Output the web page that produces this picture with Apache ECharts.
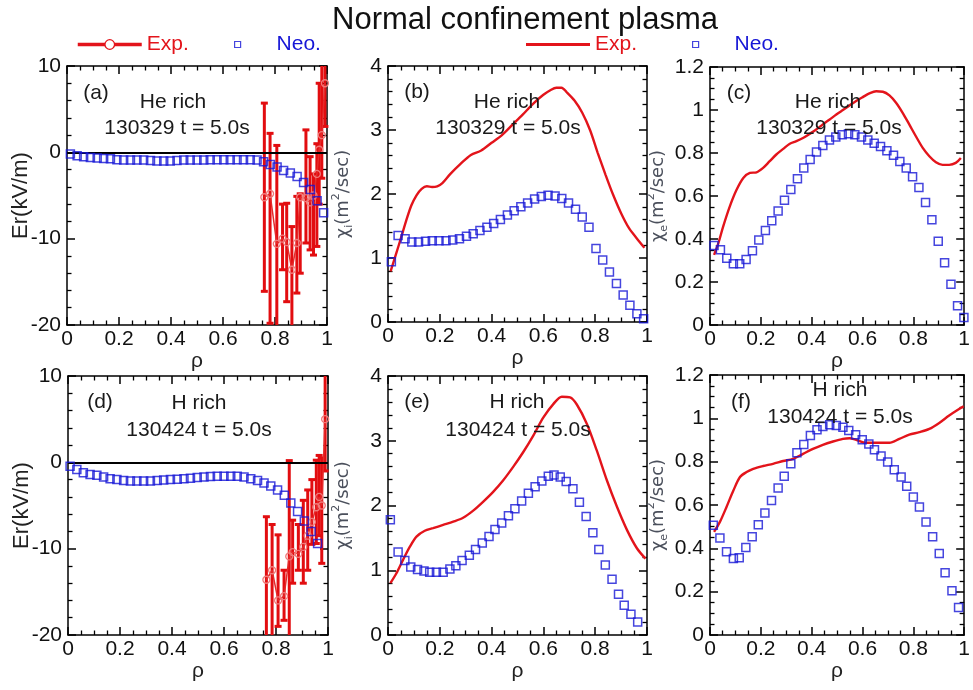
<!DOCTYPE html>
<html><head><meta charset="utf-8">
<script src="https://cdn.jsdelivr.net/npm/echarts@6/dist/echarts.min.js"></script>
<style>html,body{margin:0;padding:0;background:#fff}#c{width:973px;height:690px}</style>
</head><body><div id="c"></div>
<script>
// ---------- data ----------
const rhoNeoA = [0.013,0.039,0.064,0.090,0.116,0.141,0.167,0.192,0.218,0.244,0.269,0.295,0.321,0.346,0.372,0.397,0.423,0.449,0.474,0.500,0.526,0.551,0.577,0.603,0.628,0.654,0.679,0.705,0.731,0.756,0.782,0.808,0.833,0.859,0.885,0.910,0.936,0.962,0.987];
const neoA = [-0.2,-0.4,-0.5,-0.6,-0.65,-0.7,-0.75,-0.85,-0.9,-0.9,-0.9,-0.9,-0.95,-1.0,-1.0,-1.0,-0.95,-0.9,-0.9,-0.9,-0.9,-0.85,-0.85,-0.85,-0.85,-0.85,-0.85,-0.85,-0.9,-1.1,-1.4,-1.7,-2.1,-2.4,-2.8,-3.5,-4.3,-5.6,-7.0];
const rhoExpA = [0.759,0.781,0.807,0.829,0.845,0.865,0.884,0.897,0.919,0.935,0.948,0.961,0.970,0.980,0.992];
const expA   = [-5.2,-4.8,-10.6,-10.0,-10.4,-13.6,-10.5,-5.2,-5.3,-5.8,-5.0,-2.5,0.3,2.0,8.0];
const expALo = [-16.1,-19.8,-23,-13.6,-17.3,-23,-16.3,-14.0,-10.5,-11.3,-11.9,-10.9,-6,-3,3];
const expAHi = [5.7,2.2,0.8,-6.0,-5.9,-8.6,-5.1,-4.8,2.6,-0.5,-2.5,1.0,8.0,12,14];

const rhoNeoB = [0.013,0.039,0.066,0.092,0.118,0.145,0.171,0.197,0.224,0.250,0.276,0.303,0.329,0.355,0.382,0.408,0.434,0.461,0.487,0.513,0.539,0.566,0.592,0.618,0.645,0.671,0.697,0.724,0.750,0.776,0.803,0.829,0.855,0.882,0.908,0.934,0.961,0.987];
const neoB = [0.94,1.35,1.30,1.25,1.25,1.26,1.27,1.27,1.27,1.28,1.30,1.34,1.38,1.43,1.48,1.54,1.60,1.67,1.74,1.80,1.86,1.92,1.96,1.98,1.97,1.93,1.86,1.76,1.64,1.48,1.15,0.97,0.78,0.60,0.42,0.26,0.13,0.05];
const rhoExpB = [0.01,0.03,0.05,0.07,0.09,0.11,0.13,0.15,0.17,0.19,0.21,0.24,0.28,0.32,0.36,0.40,0.44,0.48,0.52,0.56,0.60,0.63,0.65,0.67,0.69,0.72,0.75,0.78,0.81,0.84,0.87,0.90,0.93,0.96,0.99];
const expB = [0.79,1.05,1.31,1.58,1.82,1.98,2.08,2.12,2.11,2.12,2.17,2.31,2.47,2.61,2.68,2.80,2.92,3.08,3.24,3.41,3.55,3.63,3.66,3.66,3.59,3.46,3.27,3.00,2.64,2.30,1.98,1.70,1.47,1.31,1.16];

const rhoNeoC = [0.016,0.041,0.066,0.092,0.117,0.142,0.167,0.192,0.218,0.243,0.268,0.293,0.318,0.344,0.369,0.394,0.419,0.444,0.470,0.495,0.520,0.545,0.570,0.596,0.621,0.646,0.671,0.696,0.722,0.747,0.772,0.797,0.822,0.848,0.873,0.898,0.923,0.948,0.974,0.999];
const neoC = [0.37,0.35,0.31,0.285,0.285,0.305,0.345,0.395,0.44,0.485,0.53,0.58,0.63,0.68,0.73,0.77,0.805,0.835,0.86,0.875,0.885,0.89,0.885,0.875,0.86,0.845,0.83,0.81,0.79,0.76,0.73,0.69,0.64,0.57,0.49,0.39,0.29,0.19,0.09,0.035];
const rhoExpC = [0.016,0.033,0.052,0.078,0.105,0.131,0.157,0.183,0.209,0.235,0.261,0.288,0.314,0.340,0.366,0.392,0.418,0.444,0.471,0.497,0.523,0.549,0.575,0.601,0.627,0.654,0.680,0.706,0.732,0.758,0.784,0.810,0.837,0.863,0.889,0.915,0.941,0.967,0.987];
const expC = [0.326,0.381,0.459,0.552,0.63,0.684,0.707,0.71,0.731,0.762,0.793,0.819,0.843,0.855,0.87,0.889,0.909,0.933,0.956,0.979,1.0,1.021,1.042,1.06,1.077,1.087,1.085,1.068,1.034,0.987,0.933,0.878,0.824,0.785,0.757,0.745,0.745,0.754,0.777];

const rhoNeoD = [0.008,0.034,0.059,0.085,0.111,0.137,0.162,0.188,0.214,0.240,0.265,0.291,0.317,0.343,0.368,0.394,0.420,0.446,0.471,0.497,0.523,0.548,0.574,0.600,0.626,0.651,0.677,0.703,0.729,0.754,0.780,0.806,0.832,0.857,0.883,0.909,0.935,0.960];
const neoD = [-0.45,-0.84,-1.2,-1.4,-1.5,-1.7,-1.9,-2.0,-2.1,-2.15,-2.15,-2.15,-2.15,-2.1,-2.05,-2.0,-1.95,-1.9,-1.85,-1.75,-1.7,-1.65,-1.6,-1.6,-1.6,-1.6,-1.7,-1.9,-2.1,-2.4,-2.75,-3.2,-3.8,-4.7,-5.7,-6.8,-8.0,-9.4];
const rhoExpD = [0.763,0.785,0.808,0.831,0.851,0.864,0.886,0.905,0.922,0.938,0.955,0.966,0.976,0.989];
const expD   = [-13.6,-12.5,-16.0,-15.5,-10.9,-10.4,-10.6,-9.8,-8.5,-6.9,-5.2,-4.0,-5.0,5.0];
const expDLo = [-22,-21,-19,-18.3,-22,-14,-12.5,-14,-12.5,-9.5,-9.4,-8.5,-11.7,-1];
const expDHi = [-6.3,-7.2,-8.4,-12.5,0.2,-6.7,-7.2,-4.4,-3.2,-2.0,0.25,0.8,0.5,12];

const rhoNeoE = [0.009,0.039,0.065,0.088,0.114,0.139,0.161,0.187,0.213,0.239,0.262,0.286,0.314,0.338,0.364,0.390,0.413,0.439,0.465,0.490,0.516,0.542,0.568,0.594,0.619,0.641,0.665,0.688,0.714,0.739,0.765,0.791,0.814,0.839,0.865,0.890,0.912,0.938,0.964];
const neoE = [1.78,1.28,1.15,1.05,1.01,0.99,0.97,0.97,0.97,1.02,1.07,1.15,1.23,1.32,1.42,1.52,1.63,1.73,1.84,1.95,2.07,2.19,2.29,2.38,2.45,2.47,2.44,2.37,2.26,2.05,1.83,1.58,1.32,1.08,0.86,0.63,0.46,0.32,0.20];
const rhoExpE = [0.009,0.032,0.058,0.084,0.11,0.142,0.174,0.213,0.252,0.29,0.329,0.368,0.406,0.445,0.484,0.523,0.561,0.6,0.639,0.671,0.703,0.729,0.768,0.806,0.845,0.884,0.923,0.961,0.994];
const expE = [0.8,0.95,1.16,1.36,1.52,1.61,1.65,1.70,1.75,1.81,1.92,2.06,2.21,2.39,2.60,2.83,3.08,3.36,3.57,3.68,3.67,3.56,3.26,2.85,2.39,1.98,1.62,1.34,1.18];

const rhoNeoF = [0.013,0.039,0.065,0.092,0.115,0.141,0.166,0.19,0.216,0.242,0.268,0.292,0.318,0.342,0.369,0.395,0.421,0.444,0.471,0.497,0.523,0.546,0.573,0.599,0.625,0.647,0.673,0.699,0.725,0.752,0.774,0.8,0.824,0.85,0.876,0.902,0.925,0.952,0.978];
const neoF = [0.506,0.448,0.384,0.353,0.357,0.404,0.453,0.509,0.563,0.621,0.678,0.733,0.79,0.841,0.879,0.921,0.947,0.962,0.97,0.967,0.959,0.944,0.924,0.901,0.882,0.855,0.826,0.798,0.763,0.729,0.687,0.637,0.591,0.522,0.453,0.376,0.287,0.204,0.127];
const rhoExpF = [0.016,0.039,0.065,0.092,0.118,0.144,0.17,0.209,0.248,0.288,0.327,0.366,0.405,0.444,0.484,0.523,0.549,0.575,0.614,0.654,0.706,0.745,0.784,0.824,0.863,0.902,0.941,0.98,0.998];
const expF = [0.476,0.522,0.591,0.667,0.729,0.752,0.767,0.78,0.79,0.803,0.813,0.836,0.859,0.878,0.893,0.905,0.908,0.901,0.887,0.887,0.887,0.905,0.925,0.936,0.951,0.979,1.013,1.043,1.055];

const panelTags = ['(a)','(b)','(c)','(d)','(e)','(f)'];
const panelSpecies = ['He rich','He rich','He rich','H rich','H rich','H rich'];
const panelShots = ['130329 t = 5.0s','130329 t = 5.0s','130329 t = 5.0s','130424 t = 5.0s','130424 t = 5.0s','130424 t = 5.0s'];

// ---------- styling / layout ----------
const FONT = '"Liberation Sans", Arial, sans-serif';
const RED = '#e3141b', BLUE = '#1616d6';
const zip = (xs, ys) => xs.map((x, i) => [x, ys[i]]);
const grids = [
  {left:67, top:66, width:260, height:259},
  {left:388, top:66, width:259, height:256},
  {left:710, top:67, width:255, height:258},
  {left:68, top:376, width:260, height:259},
  {left:388, top:376, width:259, height:259},
  {left:710, top:375, width:255, height:260}
];
const yRange = [
  {min:-20,max:10,interval:10,minor:5,kind:'er'},
  {min:0,max:4,interval:1,minor:5,kind:'chii'},
  {min:0,max:1.2,interval:0.2,minor:4,kind:'chie'},
  {min:-20,max:10,interval:10,minor:5,kind:'er'},
  {min:0,max:4,interval:1,minor:5,kind:'chii'},
  {min:0,max:1.2,interval:0.2,minor:4,kind:'chie'}
];
const lineBlack = {show:true, onZero:false, lineStyle:{color:'#000', width:1.5}};
const tick = {show:true, inside:true, length:8, lineStyle:{color:'#000', width:1.5}};
const minor = n => ({show:true, splitNumber:n, length:4.5, lineStyle:{color:'#000', width:1.3}});

const xAxis = [], yAxis = [];
grids.forEach((g, i) => {
  xAxis.push({type:'value', gridIndex:i, min:0, max:1, interval:0.2, position:'bottom',
    axisLine:lineBlack, axisTick:tick, minorTick:minor(4), splitLine:{show:false},
    axisLabel:{fontSize:21, color:'#111', fontFamily:FONT, margin:4},
    name:'ρ', nameLocation:'middle', nameGap:26, nameMoveOverlap:false,
    nameTextStyle:{fontSize:21, color:'#222', fontFamily:FONT}});
  xAxis.push({type:'value', gridIndex:i, min:0, max:1, interval:0.2, position:'top',
    axisLine:lineBlack, axisTick:tick, minorTick:minor(4), splitLine:{show:false}, axisLabel:{show:false}});
  const r = yRange[i];
  let nameObj;
  if (r.kind === 'er') {
    nameObj = {name:'Er(kV/m)', nameGap:35, nameTextStyle:{fontSize:22, color:'#222', fontFamily:FONT}};
  } else {
    const sub = r.kind === 'chii' ? 'i' : 'e';
    const col = '#4b505c';
    nameObj = {name:'{g|χ}{s|' + sub + '}{g|(m}{p|2}{g|/sec)}', nameGap: r.kind === 'chii' ? 33 : 40,
      nameTextStyle:{color:col, fontFamily:'"DejaVu Sans", sans-serif', fontSize:18, rich:{
        g:{fontSize:18, color:col, fontFamily:'"DejaVu Sans", sans-serif', lineHeight:24, verticalAlign:'middle'},
        s:{fontSize:11, color:col, fontFamily:'"DejaVu Sans", sans-serif', lineHeight:24, verticalAlign:'bottom'},
        p:{fontSize:11, color:col, fontFamily:'"DejaVu Sans", sans-serif', lineHeight:24, verticalAlign:'top'}}}};
  }
  yAxis.push(Object.assign({type:'value', gridIndex:i, min:r.min, max:r.max, interval:r.interval, position:'left',
    axisLine:lineBlack, axisTick:tick, minorTick:minor(r.minor), splitLine:{show:false},
    axisLabel:{fontSize:21, color:'#111', fontFamily:FONT, margin:6},
    nameLocation:'middle', nameRotate:90, nameMoveOverlap:false}, nameObj));
  yAxis.push({type:'value', gridIndex:i, min:r.min, max:r.max, interval:r.interval, position:'right',
    axisLine:lineBlack, axisTick:tick, minorTick:minor(r.minor), splitLine:{show:false}, axisLabel:{show:false}});
});

function neoSeries(i, name, xs, ys, zero) {
  const s = {type:'scatter', name, xAxisIndex:2*i, yAxisIndex:2*i, data:zip(xs, ys), clip:false,
    symbol:'rect', symbolSize:8, z:5,
    itemStyle:{color:'rgba(255,255,255,0)', borderColor:BLUE, borderWidth:1.5}};
  if (zero) s.markLine = {silent:true, symbol:'none', label:{show:false}, data:[{yAxis:0}],
    lineStyle:{color:'#000', width:2.2, type:'solid'}};
  return s;
}
function expLine(i, name, xs, ys) {
  return {type:'line', name, xAxisIndex:2*i, yAxisIndex:2*i, data:zip(xs, ys), symbol:'none',
    smooth:0.3, lineStyle:{color:RED, width:2.4}, z:3};
}
function expErr(i, xs, ys, lo, hi) {
  const r = yRange[i];
  return [
    {type:'custom', name:'err'+i, xAxisIndex:2*i, yAxisIndex:2*i, z:3,
     data: xs.map((x, k) => [x, lo[k], hi[k]]),
     renderItem: (params, api) => {
       const x = api.value(0), l = api.value(1), h = api.value(2);
       const p1 = api.coord([x, Math.max(l, r.min)]), p2 = api.coord([x, Math.min(h, r.max)]);
       const hw = 3.5, st = {stroke:'#e20d10', lineWidth:3};
       const ch = [{type:'line', shape:{x1:p1[0], y1:p1[1], x2:p2[0], y2:p2[1]}, style:st}];
       if (l >= r.min) ch.push({type:'line', shape:{x1:p1[0]-hw, y1:p1[1], x2:p1[0]+hw, y2:p1[1]}, style:st});
       if (h <= r.max) ch.push({type:'line', shape:{x1:p2[0]-hw, y1:p2[1], x2:p2[0]+hw, y2:p2[1]}, style:st});
       return {type:'group', children:ch};
     }},
    {type:'line', name:'Exp. (Er)', xAxisIndex:2*i, yAxisIndex:2*i, data:zip(xs, ys), z:4,
     symbol:'circle', symbolSize:7, lineStyle:{color:'#e52a2a', width:1.5},
     itemStyle:{color:'rgba(255,255,255,0)', borderColor:'#f07a7a', borderWidth:1.3}}
  ];
}

const series = [
  ...expErr(0, rhoExpA, expA, expALo, expAHi),
  neoSeries(0, 'Neo. (Er)', rhoNeoA, neoA, true),
  expLine(1, 'Exp. (chi)', rhoExpB, expB),
  neoSeries(1, 'Neo. (chi)', rhoNeoB, neoB, false),
  expLine(2, 'Exp. (chi)', rhoExpC, expC),
  neoSeries(2, 'Neo. (chi)', rhoNeoC, neoC, false),
  ...expErr(3, rhoExpD, expD, expDLo, expDHi),
  neoSeries(3, 'Neo. (Er)', rhoNeoD, neoD, true),
  expLine(4, 'Exp. (chi)', rhoExpE, expE),
  neoSeries(4, 'Neo. (chi)', rhoNeoE, neoE, false),
  expLine(5, 'Exp. (chi)', rhoExpF, expF),
  neoSeries(5, 'Neo. (chi)', rhoNeoF, neoF, false)
];

const legTxt = (c, pad) => ({fontSize:21, fontFamily:FONT, color:c,
  rich:{sp:{width:pad || 0, fontSize:21}}});
const legend = [
  {left:76, top:34, padding:0, itemWidth:64, itemHeight:12, formatter:'Exp.', textStyle:legTxt(RED), selectedMode:false,
   data:[{name:'Exp. (Er)', lineStyle:{color:RED, width:3.5}, itemStyle:{color:'#fff', borderColor:RED, borderWidth:1.3}}]},
  {left:234, top:34, padding:0, itemWidth:6, itemHeight:6, formatter:'{sp|}Neo.', textStyle:legTxt(BLUE, 31), selectedMode:false,
   data:[{name:'Neo. (Er)', icon:'rect', itemStyle:{color:'#fff', borderColor:BLUE, borderWidth:1.2}}]},
  {left:526, top:34, padding:0, itemWidth:64, itemHeight:3, formatter:'Exp.', textStyle:legTxt(RED), selectedMode:false,
   data:[{name:'Exp. (chi)', icon:'path://M0,0 L64,0 L64,3 L0,3 Z', itemStyle:{color:RED}}]},
  {left:692, top:34, padding:0, itemWidth:6, itemHeight:6, formatter:'{sp|}Neo.', textStyle:legTxt(BLUE, 31), selectedMode:false,
   data:[{name:'Neo. (chi)', icon:'rect', itemStyle:{color:'#fff', borderColor:BLUE, borderWidth:1.2}}]}
];

// annotation anchor positions (px)
const tagPos = [[96,93],[417,92],[739,93],[100,402],[417,402],[741,402]];
const spPos  = [[173,102],[507,102],[828,102],[199,403],[517,402],[840,390]];
const shPos  = [[177,128],[508,128],[829,128],[199,430],[518,430],[840,417]];
const graphic = [];
for (let i = 0; i < 6; i++) {
  [[panelTags[i], tagPos[i]], [panelSpecies[i], spPos[i]], [panelShots[i], shPos[i]]].forEach(([t, p]) => {
    graphic.push({type:'text', x:p[0], y:p[1], z:10, style:{text:t, fontSize:21, fontFamily:FONT, fill:'#1a1a1a',
      align:'center', verticalAlign:'middle'}});
  });
}

const chart = echarts.init(document.getElementById('c'), null, {renderer:'canvas'});
chart.setOption({
  animation:false,
  backgroundColor:'#fff',
  title:{text:'Normal confinement plasma', left:520, top:0, textAlign:'center',
    textStyle:{fontSize:31, fontWeight:'normal', color:'#111', fontFamily:FONT}},
  legend, grid:grids, xAxis, yAxis, series, graphic
});
</script></body></html>
